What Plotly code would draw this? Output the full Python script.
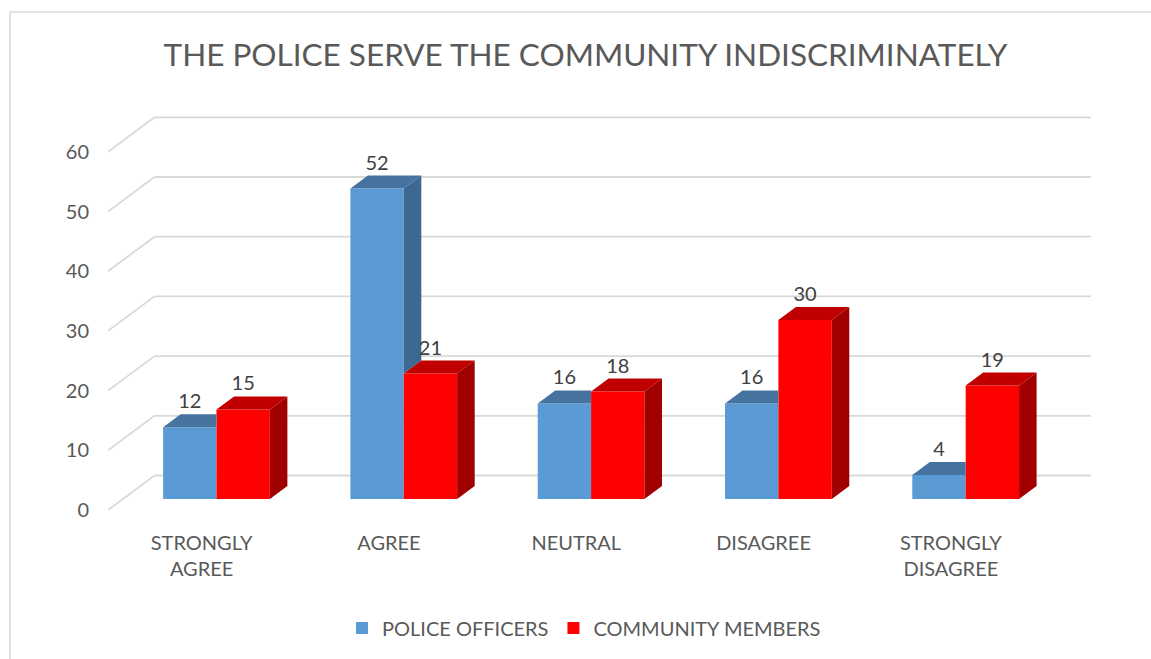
import plotly.graph_objects as go

# ---- data -------------------------------------------------------------
categories = ["STRONGLY<br>AGREE", "AGREE", "NEUTRAL", "DISAGREE", "STRONGLY<br>DISAGREE"]
police_officers = [12, 52, 16, 16, 4]
community_members = [15, 21, 18, 30, 19]
y_ticks = [0, 10, 20, 30, 40, 50, 60]
series_names = ["POLICE OFFICERS", "COMMUNITY MEMBERS"]

# ---- geometry of the oblique 3-D box ---------------------------------
W, H = 1151, 659
M_L, M_R, M_T, M_B = 108, 60, 116, 149
PX_PER_CAT = 187.3
PX_PER_UNIT = 5.97
plot_w = W - M_L - M_R
plot_h = H - M_T - M_B
x_range = [-0.5, -0.5 + plot_w / PX_PER_CAT]
y_range = [0, plot_h / PX_PER_UNIT]

DEPTH_X = 46.5 / PX_PER_CAT     # full wall depth, in category units
DEPTH_Y = 34.5 / PX_PER_UNIT    # full wall depth, in value units
T_FRONT, T_BACK = 0.319, 0.696  # bar slab position inside the box
BAR_W = 0.285

fx, fy = T_FRONT * DEPTH_X, T_FRONT * DEPTH_Y
bx, by = T_BACK * DEPTH_X, T_BACK * DEPTH_Y
ddx = bx - fx

TEXT = "#595959"
GRID = "#D9D9D9"
BLUE = dict(front="#5B9BD5", top="#46739F", side="#3C6892")
RED = dict(front="#FF0000", top="#C00000", side="#A00000")

n = len(categories)
blue_left = [i + fx - BAR_W for i in range(n)]
red_left = [i + fx for i in range(n)]


def polys_to_xy(polys):
    xs, ys = [], []
    for p in polys:
        for (x, y) in p + [p[0]]:
            xs.append(x)
            ys.append(y)
        xs.append(None)
        ys.append(None)
    return xs, ys


def face_trace(polys, color):
    xs, ys = polys_to_xy(polys)
    return go.Scatter(x=xs, y=ys, mode="lines", fill="toself", fillcolor=color,
                      line=dict(width=0, color=color), hoverinfo="skip",
                      showlegend=False)


fig = go.Figure()

# front faces as real bars (also provide the legend swatches)
fig.add_trace(go.Bar(x=[xl + BAR_W / 2 for xl in blue_left], y=police_officers,
                     base=fy, width=BAR_W, marker=dict(color=BLUE["front"], line=dict(width=0)),
                     name=series_names[0]))
fig.add_trace(go.Bar(x=[xl + BAR_W / 2 for xl in red_left], y=community_members,
                     base=fy, width=BAR_W, marker=dict(color=RED["front"], line=dict(width=0)),
                     name=series_names[1]))

# police: top faces (part hidden behind a taller neighbour is clipped) and side faces
b_top, b_side = [], []
for i, (v, r) in enumerate(zip(police_officers, community_members)):
    xl, xr = blue_left[i], blue_left[i] + BAR_W
    if v >= r:
        b_top.append([(xl, v + fy), (xr, v + fy), (xr + ddx, v + by), (xl + ddx, v + by)])
        b_side.append([(xr, r + fy), (xr, v + fy), (xr + ddx, v + by), (xr + ddx, r + by)])
    else:
        b_top.append([(xl, v + fy), (xr, v + fy), (xr, v + by), (xl + ddx, v + by)])
fig.add_trace(face_trace(b_top, BLUE["top"]))
if b_side:
    fig.add_trace(face_trace(b_side, BLUE["side"]))

# community: full top and side faces
r_top, r_side = [], []
for i, r in enumerate(community_members):
    xl, xr = red_left[i], red_left[i] + BAR_W
    r_top.append([(xl, r + fy), (xr, r + fy), (xr + ddx, r + by), (xl + ddx, r + by)])
    r_side.append([(xr, fy), (xr, r + fy), (xr + ddx, r + by), (xr + ddx, by)])
fig.add_trace(face_trace(r_top, RED["top"]))
fig.add_trace(face_trace(r_side, RED["side"]))

# value labels above each bar
LABEL_LIFT = 11 / PX_PER_UNIT
fig.add_trace(go.Scatter(
    x=[xl + BAR_W / 2 for xl in blue_left] + [xl + BAR_W / 2 for xl in red_left],
    y=[v + by + LABEL_LIFT for v in police_officers] + [v + by + LABEL_LIFT for v in community_members],
    text=[str(v) for v in police_officers] + [str(v) for v in community_members],
    mode="text", textposition="middle center",
    textfont=dict(size=20, color="#404040", family="Lato"),
    hoverinfo="skip", showlegend=False))

# side-wall and back-wall gridlines
shapes = []
for v in y_ticks:
    shapes.append(dict(type="line", xref="x", yref="y", layer="below",
                       x0=-0.5, y0=v, x1=-0.5 + DEPTH_X, y1=v + DEPTH_Y,
                       line=dict(color=GRID, width=1.8)))
    shapes.append(dict(type="line", xref="x", yref="y", layer="below",
                       x0=-0.5 + DEPTH_X, y0=v + DEPTH_Y, x1=n - 0.5 + DEPTH_X, y1=v + DEPTH_Y,
                       line=dict(color=GRID, width=1.8)))

# chart frame
shapes.append(dict(type="rect", xref="paper", yref="paper", layer="below",
                   x0=(10 - M_L) / plot_w, y0=(H - M_B - 12) / plot_h,
                   x1=(W + 20 - M_L) / plot_w, y1=-(M_B + 20) / plot_h,
                   line=dict(color=GRID, width=1.6), fillcolor="rgba(0,0,0,0)"))

fig.update_layout(
    width=W, height=H,
    margin=dict(l=M_L, r=M_R, t=M_T, b=M_B, pad=0),
    paper_bgcolor="white", plot_bgcolor="white",
    font=dict(family="Lato", color=TEXT, size=20),
    barmode="overlay",
    shapes=shapes,
    title=dict(text="THE POLICE SERVE THE COMMUNITY INDISCRIMINATELY",
               font=dict(size=31.5, color=TEXT, family="Lato"),
               x=585.5 / W, xanchor="center", y=1 - 55 / H, yanchor="middle"),
    xaxis=dict(range=x_range, showgrid=False, zeroline=False, showline=False,
               tickmode="array", tickvals=list(range(n)), ticktext=categories,
               ticks="", ticklabelstandoff=19, tickfont=dict(size=20, color=TEXT),
               fixedrange=True),
    yaxis=dict(range=y_range, showgrid=False, zeroline=False, showline=False,
               tickmode="array", tickvals=y_ticks, ticks="", ticklabelstandoff=18,
               tickfont=dict(size=20, color=TEXT), fixedrange=True),
    legend=dict(orientation="h", x=(584 - M_L) / plot_w, xanchor="center",
                y=-(628 - (H - M_B)) / plot_h, yanchor="middle",
                font=dict(size=20, color=TEXT), itemwidth=30, traceorder="normal"),
    showlegend=True,
)

fig.write_html("out.html")
